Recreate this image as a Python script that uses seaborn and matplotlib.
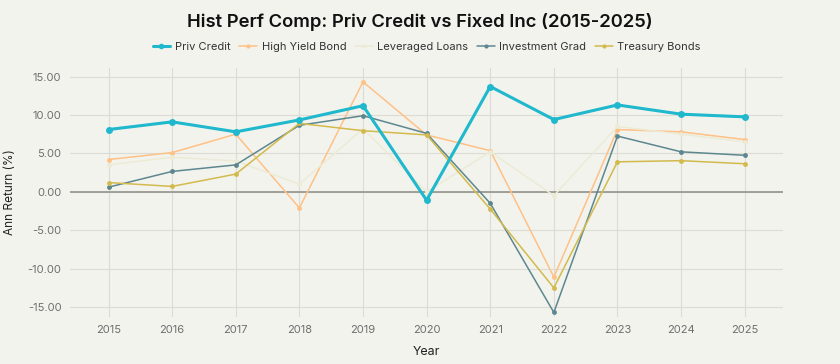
import matplotlib
matplotlib.use("Agg")
import matplotlib.pyplot as plt
import seaborn as sns
import pandas as pd
from matplotlib.ticker import FormatStrFormatter
from matplotlib.lines import Line2D

years = list(range(2015, 2026))
priv_credit = [8.1, 9.1, 7.8, 9.35, 11.2, -1.1, 13.7, 9.4, 11.3, 10.1, 9.75]
high_yield = [4.2, 5.1, 7.5, -2.1, 14.3, 7.4, 5.35, -11.1, 8.1, 7.8, 6.8]
lev_loans = [3.5, 4.5, 4.0, 1.0, 8.2, 0.0, 5.2, -0.5, 8.5, 7.5, 6.5]
inv_grade = [0.6, 2.65, 3.5, 8.65, 9.9, 7.6, -1.5, -15.7, 7.25, 5.2, 4.75]
treasury = [1.2, 0.7, 2.3, 8.9, 7.95, 7.4, -2.25, -12.5, 3.9, 4.05, 3.65]

series_names = ["Priv Credit", "High Yield Bond", "Leveraged Loans", "Investment Grad", "Treasury Bonds"]
colors = ["#1FB8CD", "#FFC185", "#ECEBD5", "#5D878F", "#D2BA4C"]

df = pd.concat([
    pd.DataFrame({"Year": years, "Return": vals, "Series": name})
    for name, vals in zip(series_names, [priv_credit, high_yield, lev_loans, inv_grade, treasury])
])

bg = "#F3F3EE"
sns.set_theme(style="whitegrid")
plt.rcParams["font.family"] = ["Inter", "DejaVu Sans"]

fig = plt.figure(figsize=(8.4, 3.64), dpi=100, facecolor=bg)
ax = fig.add_axes([0.083, 0.129, 0.849, 0.684], facecolor=bg)

sizes = {n: (2.2 if n == "Priv Credit" else 1.1) for n in series_names}
sns.lineplot(data=df, x="Year", y="Return", hue="Series", hue_order=series_names,
             palette=colors, size="Series", sizes=sizes, size_order=series_names,
             marker="o", markersize=3.5, markeredgewidth=0, ax=ax, legend=False)
for line in ax.get_lines():
    if line.get_linewidth() > 2:
        line.set_markersize(5)
        line.set_zorder(5)

ax.axhline(0, color="#9A9A92", lw=1.3, zorder=1)
ax.set_xlim(2014.39, 2025.6)
ax.set_ylim(-16.3, 16.1)
ax.set_xticks(years)
ax.set_yticks([-15, -10, -5, 0, 5, 10, 15])
ax.yaxis.set_major_formatter(FormatStrFormatter("%.2f"))
ax.grid(True, color="#DCDCD4", lw=0.8)
for s in ax.spines.values():
    s.set_visible(False)
ax.tick_params(axis="both", colors="#6E6E6E", labelsize=8, length=0, pad=6)
ax.set_xlabel("Year", fontsize=9, color="#222222", labelpad=8)
ax.set_ylabel("Ann Return (%)", fontsize=8.5, color="#222222", labelpad=8)

fig.suptitle("Hist Perf Comp: Priv Credit vs Fixed Inc (2015-2025)", x=0.5, y=0.965,
             fontsize=13.3, fontweight="semibold", color="#111111")

handles = [Line2D([0], [0], color=c, lw=(2.2 if n == "Priv Credit" else 1.1), marker="o",
                  markersize=(4 if n == "Priv Credit" else 3), markeredgewidth=0)
           for n, c in zip(series_names, colors)]
leg = fig.legend(handles, series_names, loc="center", bbox_to_anchor=(0.508, 0.872), ncol=5,
                 frameon=False, fontsize=8, handlelength=1.6, columnspacing=0.8, handletextpad=0.4)
for t in leg.get_texts():
    t.set_color("#333333")

fig.savefig("out.png", dpi=100, facecolor=bg)
